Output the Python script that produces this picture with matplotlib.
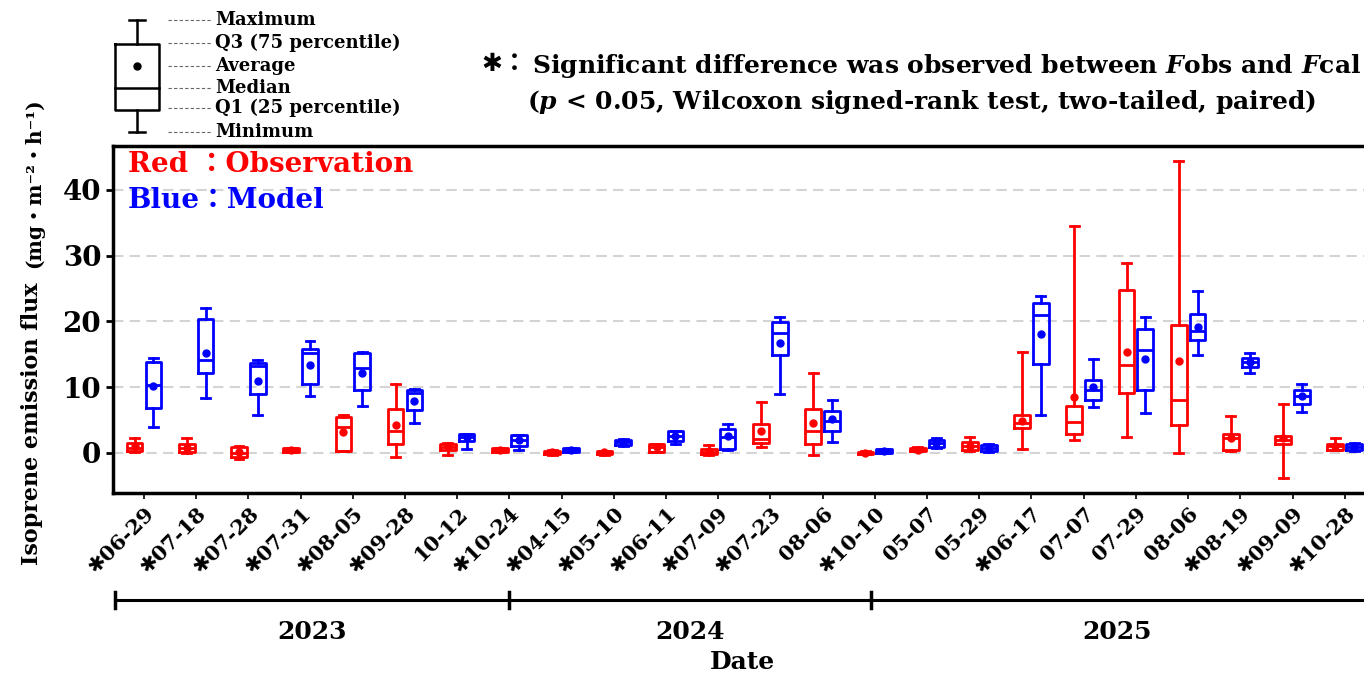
import numpy as np
import matplotlib.pyplot as plt
from matplotlib.transforms import blended_transform_factory

plt.rcParams['font.family'] = ['DejaVu Serif', 'DejaVu Sans', 'Noto Sans CJK JP']
plt.rcParams['font.weight'] = 'bold'
plt.rcParams['mathtext.fontset'] = 'custom'
plt.rcParams['mathtext.rm'] = 'DejaVu Serif:bold'
plt.rcParams['mathtext.it'] = 'DejaVu Serif:italic:bold'

dates = ['06-29', '07-18', '07-28', '07-31', '08-05', '09-28', '10-12', '10-24',
         '04-15', '05-10', '06-11', '07-09', '07-23', '08-06', '10-10',
         '05-07', '05-29', '06-17', '07-07', '07-29', '08-06', '08-19', '09-09', '10-28']
signif = [1, 1, 1, 1, 1, 1, 0, 1,
          1, 1, 1, 1, 1, 0, 1,
          0, 0, 1, 0, 0, 0, 1, 1, 1]
years = ['2023', '2024', '2025']
year_bounds = [-0.55, 7.0, 13.93, 23.35]

# observation (red)
obs_min = [0.2, 0.0, -1.0, 0.1, 0.25, -0.66, -0.25, 0.1, -0.25, -0.25, 0.1, -0.3, 0.9, -0.3, -0.15,
           0.25, 0.35, 0.6, 1.9, 2.4, 0.0, 0.35, -3.8, 0.4]
obs_q1 = [0.3, 0.1, -0.7, 0.2, 0.3, 1.4, 0.4, 0.2, -0.1, -0.1, 0.2, -0.2, 1.5, 1.4, -0.1,
          0.3, 0.5, 3.8, 2.8, 9.1, 4.3, 0.4, 1.4, 0.5]
obs_med = [0.8, 0.7, 0.0, 0.4, 4.0, 3.3, 0.9, 0.4, 0.1, 0.1, 0.9, 0.2, 2.1, 3.3, 0.0,
           0.5, 1.1, 4.5, 4.7, 13.3, 8.1, 2.3, 2.0, 1.0]
obs_q3 = [1.5, 1.4, 0.9, 0.7, 5.5, 6.7, 1.4, 0.7, 0.3, 0.3, 1.3, 0.6, 4.4, 6.7, 0.2,
          0.8, 1.7, 5.8, 7.1, 24.8, 19.4, 2.9, 2.6, 1.4]
obs_max = [2.3, 2.3, 1.1, 0.8, 5.7, 10.5, 1.5, 0.8, 0.4, 0.35, 1.4, 1.2, 7.8, 12.2, 0.25,
           0.9, 2.4, 15.3, 34.5, 28.8, 44.3, 5.6, 7.45, 2.2]
obs_mean = [1.0, 0.8, 0.1, 0.45, 3.2, 4.2, 1.0, 0.4, 0.1, 0.1, 0.9, 0.3, 3.3, 4.6, 0.05,
            0.5, 1.1, 4.8, 8.5, 15.3, 14.0, 2.2, 2.2, 1.0]

# model (blue)
mod_min = [4.0, 8.3, 5.7, 8.7, 7.2, 4.6, 0.66, 0.5, 0.1, 1.1, 1.4, 0.5, 9.0, 1.6, 0.0,
           0.7, 0.2, 5.7, 6.9, 6.1, 14.9, 12.1, 6.2, 0.3]
mod_q1 = [6.8, 12.1, 9.0, 10.5, 9.6, 6.5, 1.8, 1.1, 0.2, 1.2, 1.8, 0.6, 14.9, 3.4, 0.05,
          0.9, 0.3, 13.5, 8.0, 9.5, 17.2, 13.0, 7.45, 0.4]
mod_med = [10.3, 14.1, 13.2, 15.2, 12.9, 9.1, 2.4, 1.9, 0.45, 1.6, 2.5, 2.4, 18.2, 4.9, 0.3,
           1.5, 0.75, 21.0, 9.6, 15.7, 18.5, 13.8, 8.6, 0.85]
mod_q3 = [13.8, 20.3, 13.6, 15.8, 15.2, 9.6, 2.9, 2.7, 0.7, 2.0, 3.3, 3.7, 19.9, 6.4, 0.55,
          2.0, 1.2, 22.8, 11.1, 18.8, 21.1, 14.4, 9.6, 1.3]
mod_max = [14.4, 22.0, 14.1, 17.0, 15.3, 9.7, 2.9, 2.7, 0.8, 2.1, 3.4, 4.4, 20.7, 8.05, 0.6,
           2.2, 1.3, 23.9, 14.2, 20.6, 24.6, 15.2, 10.5, 1.5]
mod_mean = [10.1, 15.2, 11.0, 13.4, 12.2, 7.85, 2.4, 1.9, 0.45, 1.6, 2.5, 2.5, 16.7, 5.1, 0.3,
            1.5, 0.75, 18.1, 10.0, 14.3, 19.2, 13.8, 8.6, 0.85]


def make_stats(lo, q1, med, q3, hi, mean):
    return [dict(whislo=a, q1=b, med=c, q3=d, whishi=e, mean=f, fliers=[])
            for a, b, c, d, e, f in zip(lo, q1, med, q3, hi, mean)]


def draw(ax, stats, pos, col):
    lw = 2.0
    ax.bxp(stats, positions=pos, widths=0.3, showmeans=True, showfliers=False,
           capwidths=0.17, manage_ticks=False,
           boxprops=dict(color=col, lw=lw), whiskerprops=dict(color=col, lw=lw),
           capprops=dict(color=col, lw=lw), medianprops=dict(color=col, lw=lw),
           meanprops=dict(marker='o', markerfacecolor=col, markeredgecolor=col, markersize=5))


fig = plt.figure(figsize=(13.64, 6.75), dpi=100)
ax = fig.add_axes([113 / 1364, 1 - 493 / 675, 1262 / 1364, 347.3 / 675])

x = np.arange(len(dates))
draw(ax, make_stats(obs_min, obs_q1, obs_med, obs_q3, obs_max, obs_mean), x - 0.18, 'red')
draw(ax, make_stats(mod_min, mod_q1, mod_med, mod_q3, mod_max, mod_mean), x + 0.18, 'blue')

ax.set_xlim(-0.594, 23.58)
ax.set_ylim(-6.1, 46.7)
ax.set_yticks([0, 10, 20, 30, 40])
ax.tick_params(axis='y', labelsize=20, width=2, length=5)
ax.set_xticks(x)
ax.set_xticklabels([('\u2731' if s else '') + d for d, s in zip(dates, signif)],
                   rotation=45, ha='right', rotation_mode='anchor', fontsize=15)
ax.tick_params(axis='x', width=1.2, length=4)
ax.grid(axis='y', color='#d4d4d4', linestyle=(0, (5, 3)), lw=1.5)
ax.set_axisbelow(True)
for s in ['left', 'bottom', 'top']:
    ax.spines[s].set_linewidth(2.5)
ax.spines['right'].set_visible(False)

ax.text(0.012, 0.985, 'Red \uff1aObservation', color='red', fontsize=20,
        transform=ax.transAxes, va='top')
ax.text(0.012, 0.88, 'Blue\uff1aModel', color='blue', fontsize=20,
        transform=ax.transAxes, va='top')

# year axis below the date labels
tr = blended_transform_factory(ax.transData, ax.transAxes)
ax.plot([year_bounds[0], 24.5], [-0.308, -0.308], color='black', lw=2.2,
        transform=tr, clip_on=False)
for b in year_bounds[:3]:
    ax.plot([b, b], [-0.285, -0.331], color='black', lw=2.5, transform=tr, clip_on=False)
for i, y in enumerate(years):
    ax.text((year_bounds[i] + year_bounds[i + 1]) / 2, -0.40, y, transform=tr,
            ha='center', va='center', fontsize=18)
fig.text(742 / 1364, 1 - 662 / 675, 'Date', ha='center', va='center', fontsize=18)

# y label
fig.text(32 / 1364, 1 - 565 / 675, 'Isoprene emission flux', rotation=90,
         rotation_mode='anchor', ha='left', va='center', fontsize=16)
fig.text(34 / 1364, 1 - 268 / 675, '(mg\u30fbm\u207b\u00b2\u30fbh\u207b\u00b9)', rotation=90,
         rotation_mode='anchor', ha='left', va='center', fontsize=14.5)

# significance note
fig.text(527 / 1364, 1 - 64 / 675, '\u2731\uff1a', ha='right', va='center', fontsize=18)
fig.text(532 / 1364, 1 - 66 / 675,
         'Significant difference was observed between $F$obs and $F$cal',
         ha='left', va='center', fontsize=18)
fig.text(922 / 1364, 1 - 102 / 675,
         '($p$ < 0.05, Wilcoxon signed-rank test, two-tailed, paired)',
         ha='center', va='center', fontsize=18)

# box legend sketch (pixel coordinates)
ov = fig.add_axes([0, 0, 1, 1], facecolor='none')
ov.set_xlim(0, 1364)
ov.set_ylim(675, 0)
ov.axis('off')
bx = 137
ov.plot([bx, bx], [20, 44], color='black', lw=1.8)
ov.plot([bx, bx], [110, 132], color='black', lw=1.8)
ov.plot([bx - 8, bx + 8], [20, 20], color='black', lw=1.8)
ov.plot([bx - 8, bx + 8], [132, 132], color='black', lw=1.8)
ov.plot([bx - 22, bx + 22, bx + 22, bx - 22, bx - 22], [44, 44, 110, 110, 44], color='black', lw=1.8)
ov.plot([bx - 22, bx + 22], [88, 88], color='black', lw=1.8)
ov.plot([bx], [66], 'o', color='black', markersize=5)
leg_labels = ['Maximum', 'Q3 (75 percentile)', 'Average', 'Median', 'Q1 (25 percentile)', 'Minimum']
leg_y = [20, 43, 66, 88, 108, 132]
for lab, yy in zip(leg_labels, leg_y):
    ov.plot([168, 212], [yy, yy], color='#666666', lw=0.8, ls=(0, (3, 2)))
    ov.text(215, yy, lab, va='center', ha='left', fontsize=13)

fig.savefig('out.png', dpi=100)
